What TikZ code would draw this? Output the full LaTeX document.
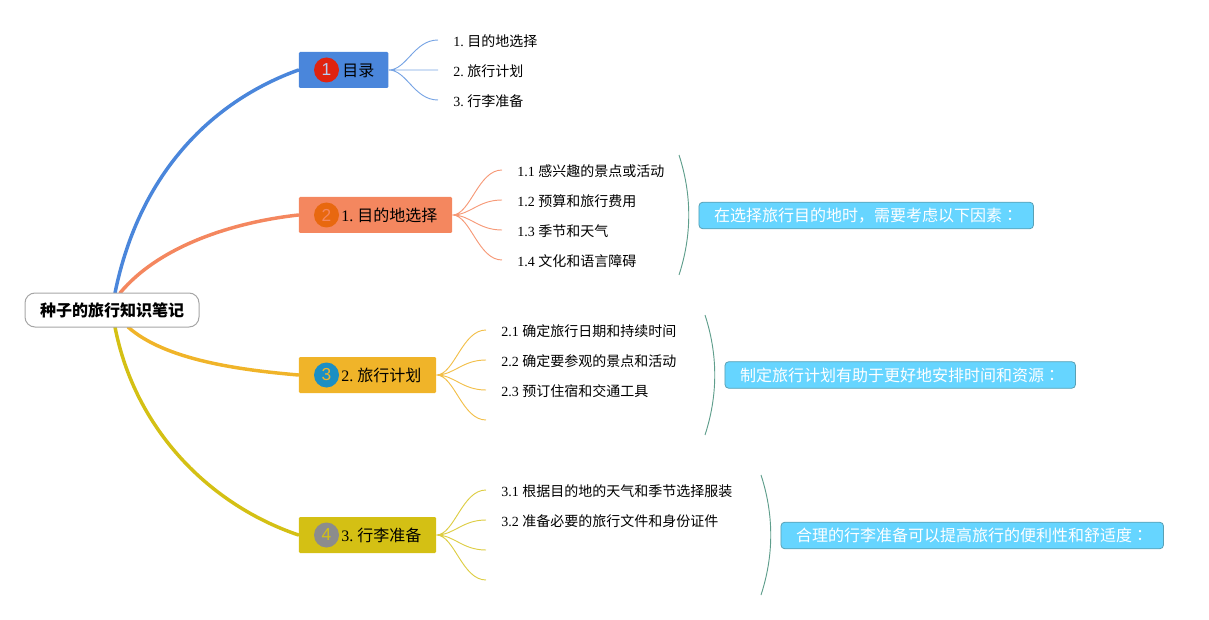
\documentclass[tikz,border=0pt]{standalone}
\usetikzlibrary{calc}
\usepackage{fontspec}
\setmainfont{Liberation Serif}
\newfontfamily\cjk{Noto Sans CJK SC}
\newfontfamily\cjkc{Noto Sans CJK TC}
\newfontfamily\digitfont{Liberation Sans}
\AtBeginDocument{\frenchspacing}
\definecolor{cblue}{HTML}{4A86DB}
\definecolor{csalmon}{HTML}{F4875F}
\definecolor{cyellow}{HTML}{F0B429}
\definecolor{colive}{HTML}{D4C014}
\definecolor{cfloat}{HTML}{66D5FF}
\definecolor{cfloatb}{HTML}{5AA0B4}
\definecolor{carc}{HTML}{5F9E8C}
\definecolor{bred}{HTML}{E0230F}
\definecolor{borange}{HTML}{E8680F}
\definecolor{bcyan}{HTML}{1B8FC4}
\definecolor{bgray}{HTML}{8C8C8C}
\tikzset{
  px/.style={x=0.75pt,y=-0.75pt},
  rootbox/.style={draw=black!35,line width=0.75pt,fill=white,rounded corners=7.5pt,minimum width=130.5pt,minimum height=25.5pt,inner sep=0pt,font=\cjk\bfseries\fontsize{12}{14}\selectfont},
  topicbox/.style={rounded corners=1pt,minimum height=27pt,inner sep=0pt,anchor=west},
  topictext/.style={anchor=west,inner sep=0pt,text height=12pt,text depth=2.5pt,font=\fontsize{12}{14}\selectfont},
  badge/.style={circle,minimum size=18.75pt,inner sep=0pt,font=\digitfont\fontsize{13}{15}\selectfont},
  subtext/.style={anchor=west,inner sep=0pt,text height=11.8pt,text depth=2pt,font=\fontsize{10.5}{12}\selectfont},
  floatbox/.style={draw=cfloatb,line width=0.6pt,fill=cfloat,rounded corners=3pt,text=white,minimum height=20pt,inner sep=0pt,anchor=west,font=\cjk\fontsize{12}{14}\selectfont},
  main/.style={line width=2.6pt,line cap=round},
  sub/.style={line width=0.7pt},
  arc/.style={draw=carc,line width=0.7pt},
}
\begin{document}
\begin{tikzpicture}[px]
\useasboundingbox (0,0) rectangle (1209,620);
% anchors
\coordinate (rb) at (115,293);
\coordinate (rs) at (120,293);
\coordinate (ry) at (128,327);
\coordinate (ro) at (115,327);
% topics
\node[topicbox,fill=cblue,minimum width=67.25pt] (t1) at (298.5,70) {};
\node[topicbox,fill=csalmon,minimum width=115pt] (t2) at (298.5,215) {};
\node[topicbox,fill=cyellow,minimum width=103pt] (t3) at (298.5,375) {};
\node[topicbox,fill=colive,minimum width=103pt] (t4) at (298.5,535) {};
% main branches
\draw[main,cblue] (rb) .. controls (140,170) and (215,100) .. (t1.west);
\draw[main,csalmon] (rs) .. controls (160,245) and (235,222) .. (t2.west);
\draw[main,cyellow] (ry) .. controls (165,360) and (240,370) .. (t3.west);
\draw[main,colive] (ro) .. controls (135,430) and (210,505) .. (t4.west);
\node[rootbox] (root) at (112,310) {种子的旅行知识笔记};
% badges and labels
\node[badge,fill=bred,text=cblue!40!white] (b1) at (326.5,70) {1};
\node[badge,fill=borange,text=csalmon] (b2) at (326.5,215) {2};
\node[badge,fill=bcyan,text=cyellow] (b3) at (326.5,375) {3};
\node[badge,fill=bgray,text=colive] (b4) at (326.5,535) {4};
\node[topictext] (l1) at (342,70) {{\cjk 目录}};
\node[topictext] (l2) at (341,215) {1. {\cjk 目的地选择}};
\node[topictext] (l3) at (341,375) {2. {\cjk 旅行计划}};
\node[topictext] (l4) at (341,535) {3. {\cjk 行李准备}};
% sub texts
\node[subtext] (s11) at (453,40) {1. {\cjk 目的地选择}};
\node[subtext] (s12) at (453,70) {2. {\cjk 旅行计划}};
\node[subtext] (s13) at (453,100) {3. {\cjk 行李准备}};
\node[subtext] (s21) at (517,170) {1.1 {\cjk 感兴趣的景点或活动}};
\node[subtext] (s22) at (517,200) {1.2 {\cjk 预算和旅行费用}};
\node[subtext] (s23) at (517,230) {1.3 {\cjk 季节和天气}};
\node[subtext] (s24) at (517,260) {1.4 {\cjk 文化和语言障碍}};
\node[subtext] (s31) at (501,330) {2.1 {\cjk 确定旅行日期和持续时间}};
\node[subtext] (s32) at (501,360) {2.2 {\cjk 确定要参观的景点和活动}};
\node[subtext] (s33) at (501,390) {2.3 {\cjk 预订住宿和交通工具}};
\node[subtext] (s41) at (501,490) {3.1 {\cjk 根据目的地的天气和季节选择服装}};
\node[subtext] (s42) at (501,520) {3.2 {\cjk 准备必要的旅行文件和身份证件}};
\coordinate (s34) at (486,420);
\coordinate (s43) at (486,550);
\coordinate (s44) at (486,580);
% sub connectors
\draw[sub,cblue!75!white]
  (t1.east) .. controls +(18,0) and +(-24,0) .. ($(s11.west)+(-15,0)$)
  (t1.east) -- ($(s12.west)+(-15,0)$)
  (t1.east) .. controls +(18,0) and +(-24,0) .. ($(s13.west)+(-15,0)$);
\draw[sub,csalmon!85!white]
  (t2.east) .. controls +(18,0) and +(-24,0) .. ($(s21.west)+(-15,0)$)
  (t2.east) .. controls +(18,0) and +(-24,0) .. ($(s22.west)+(-15,0)$)
  (t2.east) .. controls +(18,0) and +(-24,0) .. ($(s23.west)+(-15,0)$)
  (t2.east) .. controls +(18,0) and +(-24,0) .. ($(s24.west)+(-15,0)$);
\draw[sub,cyellow!85!white]
  (t3.east) .. controls +(18,0) and +(-24,0) .. ($(s31.west)+(-15,0)$)
  (t3.east) .. controls +(18,0) and +(-24,0) .. ($(s32.west)+(-15,0)$)
  (t3.east) .. controls +(18,0) and +(-24,0) .. ($(s33.west)+(-15,0)$)
  (t3.east) .. controls +(18,0) and +(-24,0) .. (s34);
\draw[sub,colive!80!white]
  (t4.east) .. controls +(18,0) and +(-24,0) .. ($(s41.west)+(-15,0)$)
  (t4.east) .. controls +(18,0) and +(-24,0) .. ($(s42.west)+(-15,0)$)
  (t4.east) .. controls +(18,0) and +(-24,0) .. (s43)
  (t4.east) .. controls +(18,0) and +(-24,0) .. (s44);
% floats
\node[floatbox,minimum width=251pt] (f2) at (698.5,215.5) {在选择旅行目的地时，需要考虑以下因素{\cjkc ：}};
\node[floatbox,minimum width=263pt] (f3) at (724.5,375) {制定旅行计划有助于更好地安排时间和资源{\cjkc ：}};
\node[floatbox,minimum width=287pt] (f4) at (780.5,535.5) {合理的行李准备可以提高旅行的便利性和舒适度{\cjkc ：}};
\coordinate (a2t) at (679,155); \coordinate (a2b) at (679,275);
\coordinate (a3t) at (705,315); \coordinate (a3b) at (705,435);
\coordinate (a4t) at (761,475); \coordinate (a4b) at (761,595);
\draw[arc] (a2t) .. controls +(13,40) and +(13,-40) .. (a2b);
\draw[arc] (a3t) .. controls +(13,40) and +(13,-40) .. (a3b);
\draw[arc] (a4t) .. controls +(13,40) and +(13,-40) .. (a4b);
\end{tikzpicture}
\end{document}
